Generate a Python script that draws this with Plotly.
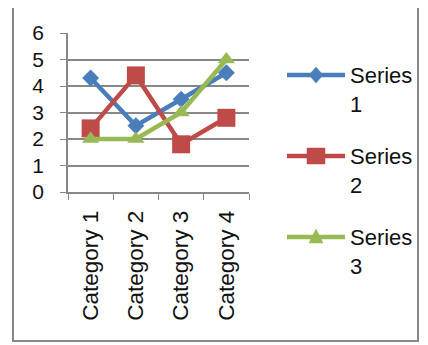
import plotly.graph_objects as go

categories = ["Category 1", "Category 2", "Category 3", "Category 4"]
series1 = [4.3, 2.5, 3.5, 4.5]
series2 = [2.4, 4.4, 1.8, 2.8]
series3 = [2, 2, 3, 5]
series_names = ["Series 1", "Series 2", "Series 3"]
colors = ["#4a7ebb", "#be4b48", "#98b954"]
symbols = ["diamond", "square", "triangle-up"]
msizes = [13, 18, 15]

# page body has an 8px margin; work in reference pixel coords
OFF = 8
W, H = 428 - OFF, 345 - OFF
L, R, T, B = 68, 249, 33, 192  # plot area in reference pixels

fig = go.Figure()
for name, vals, c, s, ms in zip(series_names, [series1, series2, series3], colors, symbols, msizes):
    fig.add_trace(go.Scatter(
        x=categories, y=vals, name=name, mode="lines+markers",
        line=dict(color=c, width=4.5),
        marker=dict(symbol=s, size=ms, color=c),
        showlegend=False,
    ))

def px_x(p):
    return (p - L) / (R - L)

def px_y(p):
    return (B - p) / (B - T)

shapes = [dict(
    type="rect", xref="paper", yref="paper",
    x0=px_x(13), x1=px_x(418), y0=px_y(341), y1=px_y(3),
    line=dict(color="#888", width=2), fillcolor="rgba(0,0,0,0)", layer="below",
)]
annotations = []

# manual legend (Excel style: long line with marker in middle)
leg_y = [75, 156, 237]
lx0, lx1, lxm, tx = 287, 345, 316, 348
for i, (name, c, s) in enumerate(zip(series_names, colors, symbols)):
    y = leg_y[i]
    shapes.append(dict(type="line", xref="paper", yref="paper",
                       x0=px_x(lx0), x1=px_x(lx1), y0=px_y(y), y1=px_y(y),
                       line=dict(color=c, width=4.5)))
    if s == "diamond":
        pts = [(lxm, y - 8), (lxm + 7, y), (lxm, y + 8), (lxm - 7, y)]
    elif s == "square":
        pts = [(lxm - 9, y - 8), (lxm + 9, y - 8), (lxm + 9, y + 8), (lxm - 9, y + 8)]
    else:
        pts = [(lxm, y - 8), (lxm + 7, y + 6), (lxm - 7, y + 6)]
    path = "M " + " L ".join(f"{px_x(a):.5f},{px_y(b):.5f}" for a, b in pts) + " Z"
    shapes.append(dict(type="path", xref="paper", yref="paper", path=path,
                       fillcolor=c, line=dict(color=c, width=0.5)))
    word, num = name.split(" ")
    annotations.append(dict(
        xref="paper", yref="paper", x=px_x(tx), y=px_y(y + 15),
        xanchor="left", yanchor="middle", align="left", showarrow=False,
        text=f"{word}<br>{num}", font=dict(size=22, color="#111"),
    ))

fig.update_layout(
    width=W, height=H,
    margin=dict(l=L - OFF, r=W - (R - OFF), t=T - OFF, b=H - (B - OFF), pad=0, autoexpand=False),
    paper_bgcolor="white", plot_bgcolor="white",
    font=dict(family="Liberation Sans, Arial, sans-serif", color="#111", size=18),
    showlegend=False,
    xaxis=dict(
        type="category", tickangle=-90, tickfont=dict(size=22.5),
        showline=True, linecolor="#888", linewidth=1.5,
        ticks="outside", ticklen=6, tickcolor="#888", tickson="boundaries",
        showgrid=False, range=[-0.5, 3.5], automargin=False,
        ticklabelstandoff=8,
    ),
    yaxis=dict(
        range=[0, 6], dtick=1, tickfont=dict(size=21),
        showline=True, linecolor="#888", linewidth=1.5,
        ticks="outside", ticklen=6, tickcolor="#888",
        showgrid=True, gridcolor="#888", gridwidth=1.5,
        zeroline=False, automargin=False, ticklabelstandoff=12,
    ),
    shapes=shapes,
    annotations=annotations,
)

fig.write_html("out.html")
